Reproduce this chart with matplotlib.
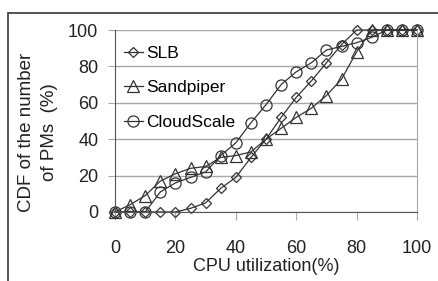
import matplotlib
matplotlib.use('Agg')
import matplotlib.pyplot as plt
from matplotlib.patches import Rectangle

plt.rcParams['font.family'] = ['Liberation Sans Narrow', 'Liberation Sans', 'DejaVu Sans']

# CPU utilization (%) and CDF values (%)
cpu = [0, 5, 10, 15, 20, 25, 30, 35, 40, 45, 50, 55, 60, 65, 70, 75, 80, 85, 90, 95, 100]
slb = [0, 0, 0, 0, 0, 2, 5, 13, 19, 30, 40, 52, 63, 72, 82, 92, 100, 100, 100, 100, 100]
sandpiper = [0, 4, 9, 17, 21, 24, 25, 30, 31, 33, 40, 46, 52, 57, 64, 73, 88, 100, 100, 100, 100]
cloudscale = [0, 0, 0, 11, 16, 19, 22, 31, 38, 49, 59, 70, 77, 82, 89, 91, 93, 96, 100, 100, 100]

xticks = [0, 20, 40, 60, 80, 100]
yticks = [0, 20, 40, 60, 80, 100]

fig = plt.figure(figsize=(4.39, 2.81), dpi=100)
ax = fig.add_axes([0.262, 0.2456, 0.688, 0.6476])

# thin frame around the whole chart
fig.patches.append(Rectangle((0.018, -0.05), 1.1, 1.004, transform=fig.transFigure,
                             fill=False, edgecolor='#333333', linewidth=1.2))

style = dict(color='#333333', linewidth=0.9, markerfacecolor='none',
             markeredgecolor='#333333', markeredgewidth=0.9, clip_on=False)
ax.plot(cpu, slb, marker='D', markersize=5.5, label='SLB', **style)
ax.plot(cpu, sandpiper, marker='^', markersize=8, label='Sandpiper', **style)
ax.plot(cpu, cloudscale, marker='o', markersize=8, label='CloudScale', **style)

ax.set_xlim(0, 100)
ax.set_ylim(0, 100)
ax.set_xticks(xticks)
ax.set_yticks(yticks)
ax.grid(axis='y', color='#a8a8a8', linewidth=1.0)
ax.set_axisbelow(True)

ax.spines['top'].set_visible(False)
ax.spines['right'].set_color('#a8a8a8')
ax.spines['left'].set_color('#555555')
ax.spines['bottom'].set_color('#555555')

ax.tick_params(axis='x', length=6, color='#a8a8a8', pad=14, labelsize=13, labelcolor='#222222')
ax.tick_params(axis='y', length=5, color='#a8a8a8', pad=7, labelsize=13, labelcolor='#222222')

ax.set_xlabel('CPU utilization(%)', fontsize=13, color='#222222', labelpad=1)
fig.text(0.087, 0.53, 'CDF of the number\nof PMs  (%)', rotation=90, ha='center', va='center',
         fontsize=13.5, color='#222222', linespacing=1.45)

ax.legend(loc='upper left', frameon=False, fontsize=12.5, labelspacing=1.1,
          handlelength=1.1, handletextpad=0.2, borderaxespad=0.1,
          bbox_to_anchor=(0.0, 0.96))

fig.savefig('out.png', dpi=100)
